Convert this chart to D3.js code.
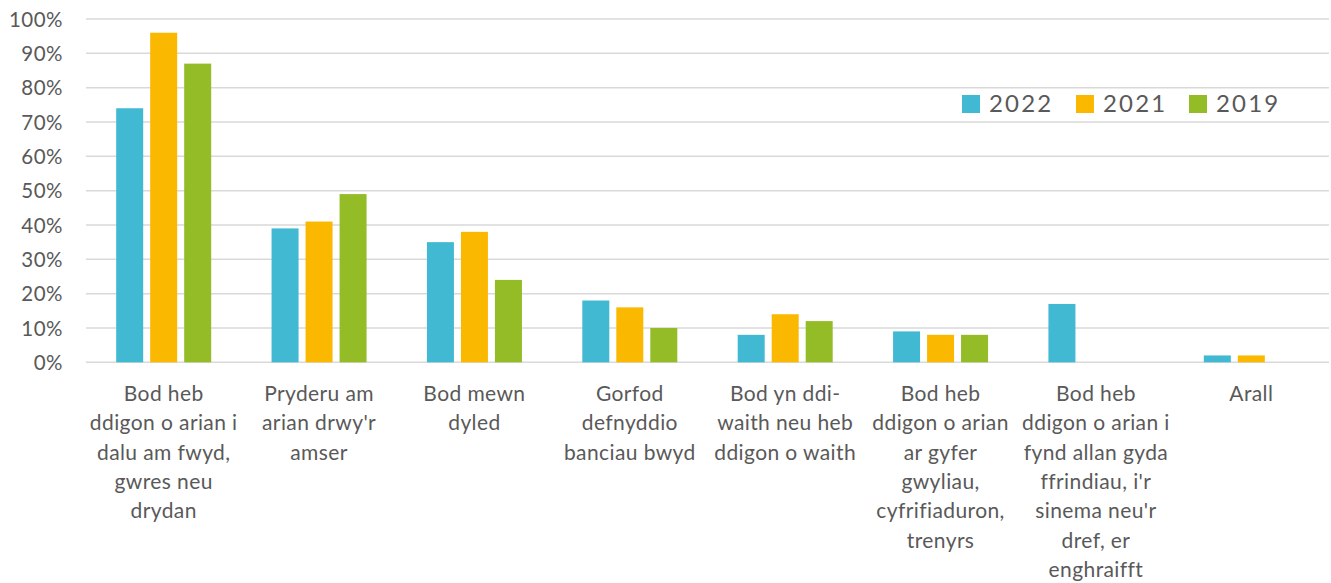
<!DOCTYPE html>
<html><head><meta charset="utf-8">
<script src="https://cdn.jsdelivr.net/npm/d3@7"></script>
<style>
html,body{margin:0;padding:0;background:#fff;}
svg{display:block;font-family:Lato,"Open Sans",sans-serif;}
</style></head>
<body><svg id="c" width="1331" height="583"></svg>
<script>
const categories = [
  ["Bod heb","ddigon o arian i","dalu am fwyd,","gwres neu","drydan"],
  ["Pryderu am","arian drwy'r","amser"],
  ["Bod mewn","dyled"],
  ["Gorfod","defnyddio","banciau bwyd"],
  ["Bod yn ddi-","waith neu heb","ddigon o waith"],
  ["Bod heb","ddigon o arian","ar gyfer","gwyliau,","cyfrifiaduron,","trenyrs"],
  ["Bod heb","ddigon o arian i","fynd allan gyda","ffrindiau, i'r","sinema neu'r","dref, er","enghraifft"],
  ["Arall"]
];
const seriesNames = ["2022","2021","2019"];
const values2022 = [74, 39, 35, 18, 8, 9, 17, 2];
const values2021 = [96, 41, 38, 16, 14, 8, 0, 2];
const values2019 = [87, 49, 24, 10, 12, 8, 0, 0];
const colors = ["#41b9d3", "#fbb800", "#93bc26"];
const yTicks = [0,10,20,30,40,50,60,70,80,90,100];

(function(){
const series = [values2022, values2021, values2019];
const svg = d3.select("#c");
const pLeft = 86, pRight = 1329, pTop = 19, pBottom = 362.3;

const x0 = d3.scaleBand().domain(d3.range(categories.length)).range([pLeft, pRight]).padding(0);
const y = d3.scaleLinear().domain([0,100]).range([pBottom, pTop]);
const gw = x0.bandwidth();
const x1 = d3.scaleBand().domain(seriesNames).range([gw/2 - 47.5, gw/2 + 47.5]).paddingInner(0.206).paddingOuter(0);

svg.append("g").selectAll("line").data(yTicks).join("line")
  .attr("x1", pLeft).attr("x2", pRight)
  .attr("y1", d => y(d)).attr("y2", d => y(d))
  .attr("stroke", "#d9d9d9").attr("stroke-width", 1.5);

const yAxis = d3.axisLeft(y).tickValues(yTicks).tickFormat(d => d + "%").tickSize(0).tickPadding(0);
const ga = svg.append("g").attr("transform", `translate(${pLeft-23},0)`).call(yAxis);
ga.select(".domain").remove();
ga.selectAll("text").attr("font-size", 20.5).attr("fill", "#595959").attr("font-family", "Lato,'Open Sans',sans-serif").attr("dy", "0.35em").attr("letter-spacing", 0.5);

const g = svg.append("g");
categories.forEach((c, i) => {
  const gg = g.append("g").attr("transform", `translate(${x0(i)},0)`);
  gg.selectAll("rect").data(seriesNames.map((s, k) => ({s, v: series[k][i], k}))).join("rect")
    .attr("x", d => x1(d.s)).attr("width", x1.bandwidth())
    .attr("y", d => y(d.v)).attr("height", d => y(0) - y(d.v))
    .attr("fill", d => colors[d.k]);
});

categories.forEach((lines, i) => {
  const t = svg.append("text").attr("x", x0(i) + gw/2).attr("y", 401)
    .attr("text-anchor", "middle").attr("font-size", 21).attr("fill", "#595959").attr("letter-spacing", 0.4);
  lines.forEach((l, j) => t.append("tspan").attr("x", x0(i) + gw/2).attr("y", 401 + j*29.3).text(l));
});

const legX = [962, 1076, 1189];
seriesNames.forEach((s, k) => {
  svg.append("rect").attr("x", legX[k]).attr("y", 95).attr("width", 18).attr("height", 18).attr("fill", colors[k]);
  svg.append("text").attr("x", legX[k] + 27).attr("y", 112).attr("font-size", 24).attr("fill", "#595959").attr("letter-spacing", 2.2).text(s);
});
})();
</script></body></html>
